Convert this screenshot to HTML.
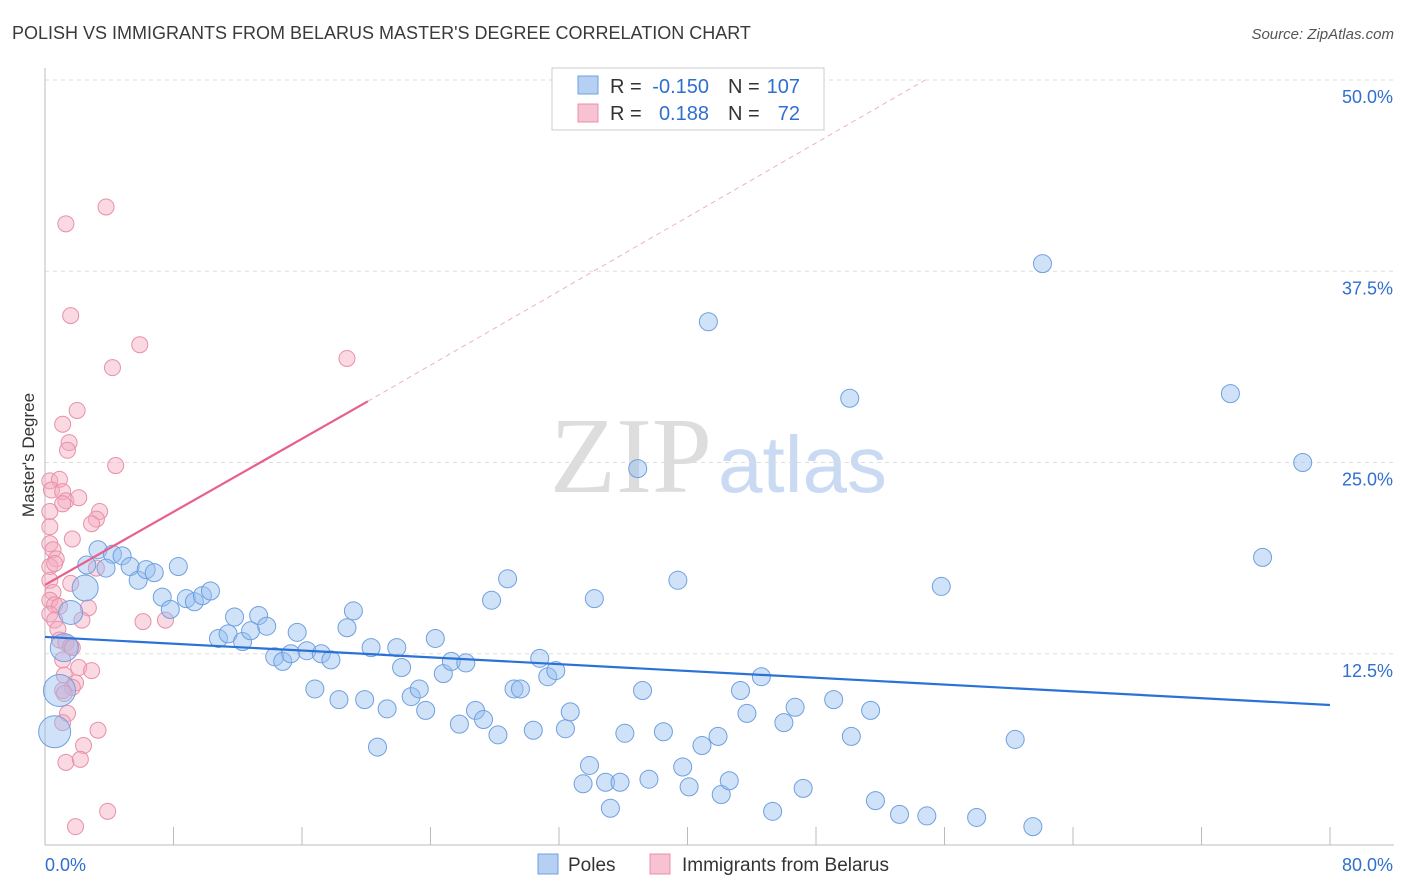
<!DOCTYPE html>
<html><head><meta charset="utf-8"><style>
body{margin:0;background:#fff;font-family:"Liberation Sans",sans-serif}
#wrap{position:relative;width:1406px;height:892px;overflow:hidden}
</style></head><body>
<div id="wrap">
<svg id="svg" width="1406" height="892" xmlns="http://www.w3.org/2000/svg">
<text x="12" y="39" font-size="18" fill="#3a3a3a">POLISH VS IMMIGRANTS FROM BELARUS MASTER'S DEGREE CORRELATION CHART</text>
<text x="1394" y="39" font-size="15" fill="#555" font-style="italic" text-anchor="end">Source: ZipAtlas.com</text>
<text x="712" y="492" font-size="108" fill="#ddd" font-family="Liberation Serif" text-anchor="end">ZIP</text>
<text x="718" y="492" font-size="80" fill="#c9daf2">atlas</text>
<text x="34" y="455" font-size="17" fill="#333" transform="rotate(-90 34 455)" text-anchor="middle">Master's Degree</text>
<g id="grid"></g><g id="pts"></g><g id="lines"></g>
<g>
<rect x="552" y="68" width="272" height="62" fill="#fff" stroke="#ccc"/>
<rect x="578" y="76" width="20" height="18" fill="#b6d0f3" stroke="#6fa0e0"/>
<rect x="578" y="104" width="20" height="18" fill="#f7c2d1" stroke="#e890a8"/>
<text x="610" y="93" font-size="20" fill="#333">R =</text>
<text x="709" y="93" font-size="20" fill="#2f6fd0" text-anchor="end">-0.150</text>
<text x="728" y="93" font-size="20" fill="#333">N =</text>
<text x="800" y="93" font-size="20" fill="#2f6fd0" text-anchor="end">107</text>
<text x="610" y="120" font-size="20" fill="#333">R =</text>
<text x="709" y="120" font-size="20" fill="#2f6fd0" text-anchor="end">0.188</text>
<text x="728" y="120" font-size="20" fill="#333">N =</text>
<text x="800" y="120" font-size="20" fill="#2f6fd0" text-anchor="end">72</text>
</g>
<g>
<rect x="538" y="854" width="20" height="20" fill="#b6d0f3" stroke="#6fa0e0"/>
<text x="568" y="871" font-size="19" fill="#333">Poles</text>
<rect x="650" y="854" width="20" height="20" fill="#f7c2d1" stroke="#e890a8"/>
<text x="682" y="871" font-size="19" fill="#333">Immigrants from Belarus</text>
</g>
</svg></div>
<script>
const yTicks=[12.5,25,37.5,50];
const yTickLabels=["12.5%","25.0%","37.5%","50.0%"];
const xTickVals=[0,8,16,24,32,40,48,56,64,72,80];
const xEndLabels=["0.0%","80.0%"];
const polesX=[62.1,41.3,50.1,73.8,78.3,36.9,75.8,55.8,39.4,28.8,34.2,27.8,19.2,18.8,24.3,3.3,2.6,4.2,4.8,5.3,3.8,5.8,6.3,6.8,8.3,7.3,7.8,8.8,9.3,9.8,10.3,11.8,13.3,10.8,11.4,12.3,12.8,13.8,15.7,14.3,14.8,15.3,16.3,17.2,17.8,20.3,21.9,22.2,24.8,25.3,26.2,30.8,31.3,31.8,16.8,18.3,19.9,21.3,22.8,23.3,23.7,25.8,26.8,27.3,28.2,29.2,29.6,30.4,32.4,32.7,20.7,33.9,33.5,34.9,35.8,35.2,37.6,36.1,37.2,38.5,39.7,40.1,40.9,41.9,42.1,42.6,43.3,43.7,44.6,46.0,46.7,47.2,45.3,49.1,50.2,51.4,51.7,53.2,54.9,58.0,60.4,61.5,0.9,0.6,1.2,2.5,1.6];
const polesY=[38.0,34.2,29.2,29.5,25.0,24.6,18.8,16.9,17.3,17.4,16.1,16.0,15.3,14.2,13.5,19.3,18.3,19.0,18.9,18.2,18.1,17.3,18.0,17.8,18.2,16.2,15.4,16.1,15.9,16.3,16.6,14.9,15.0,13.5,13.8,13.3,14.0,14.3,13.9,12.3,12.0,12.5,12.7,12.5,12.1,12.9,12.9,11.6,11.2,12.0,11.9,12.2,11.0,11.4,10.2,9.5,9.5,8.9,9.7,10.2,8.8,7.9,8.8,8.2,7.2,10.2,10.2,7.5,7.6,8.7,6.4,5.2,4.0,4.1,4.1,2.4,4.3,7.3,10.1,7.4,5.1,3.8,6.5,7.1,3.3,4.2,10.1,8.6,11.0,8.0,9.0,3.7,2.2,9.5,7.1,8.8,2.9,2.0,1.9,1.8,6.9,1.2,10.1,7.4,12.9,16.8,15.2];
const polesR=Array(102).fill(9).concat([16,16,14,13,12]);
const belX=[3.8,1.3,1.6,5.9,4.2,18.8,2.0,1.1,1.5,1.4,4.4,0.3,0.9,0.4,1.1,1.3,2.1,1.1,0.3,3.4,3.2,2.9,0.3,1.7,0.3,0.5,0.7,0.3,0.6,3.2,0.3,1.6,0.5,0.3,0.6,0.9,2.7,0.3,0.6,6.1,7.5,2.3,0.8,0.9,1.3,1.6,1.7,1.1,2.1,2.9,1.2,1.9,1.7,1.1,1.2,1.4,1.1,3.3,2.4,1.3,2.2,3.9,1.9];
const belY=[41.7,40.6,34.6,32.7,31.2,31.8,28.4,27.5,26.3,25.8,24.8,23.8,23.9,23.2,23.1,22.5,22.7,22.3,21.8,21.8,21.3,21.0,20.8,20.0,19.7,19.3,18.7,18.2,18.4,18.1,17.3,17.1,16.5,16.0,15.7,15.6,15.5,15.1,14.7,14.6,14.7,14.7,14.1,13.4,13.2,13.0,12.9,12.1,11.6,11.4,11.1,10.6,10.3,10.1,9.9,8.6,8.0,7.5,6.5,5.4,5.6,2.2,1.2];
const polesTrend=[[0,13.6],[80,9.15]];
const belTrend=[[0,17.0],[20.1,29.0]];
const belTrendExt=[[20.1,29.0],[54.8,50]];

const X0=45,X1=1330,Y0=845,Y50=80;
const sx=v=>X0+(X1-X0)*v/80;
const sy=v=>Y0-(Y0-Y50)*v/50;
const NS="http://www.w3.org/2000/svg";
function mk(tag,attrs,parent){const e=document.createElementNS(NS,tag);for(const k in attrs)e.setAttribute(k,attrs[k]);parent.appendChild(e);return e;}
const grid=document.getElementById('grid'),pts=document.getElementById('pts'),lines=document.getElementById('lines');
yTicks.forEach((t,i)=>{
  const l=mk('line',{x1:X0,x2:1394,y1:sy(t),y2:sy(t),stroke:'#ddd','stroke-dasharray':'4 4'},grid);
  
  
  const tx=mk('text',{x:1393,y:sy(t)+23,'font-size':18,fill:'#2f6fd0','text-anchor':'end'},grid);
  tx.textContent=yTickLabels[i];
  
  
});
const ax=mk('line',{x1:X0,x2:X0,y1:68,y2:Y0,stroke:'#bbb'},grid);


const bx=mk('line',{x1:X0,x2:1394,y1:Y0,y2:Y0,stroke:'#bbb'},grid);


xTickVals.forEach(v=>{
  const t=mk('line',{x1:sx(v),x2:sx(v),y1:Y0,y2:827,stroke:'#bbb'},grid);
  
  
});
[[0,'start'],[80,'end']].forEach((p,i)=>{
  const t=mk('text',{x:i?1393:45,y:871,'font-size':18,fill:'#2f6fd0','text-anchor':p[1]},grid);
  t.textContent=xEndLabels[i];
  
  
});
belX.forEach((v,i)=>{
  const c=mk('circle',{cx:sx(v),cy:sy(belY[i]),r:8,fill:'rgba(244,170,192,0.45)',stroke:'#e890a8','stroke-width':1},pts);
  
  
});
polesX.forEach((v,i)=>{
  const c=mk('circle',{cx:sx(v),cy:sy(polesY[i]),r:polesR[i],fill:'rgba(150,190,240,0.45)',stroke:'#6fa0e0','stroke-width':1},pts);
  
  
});
const pl=mk('line',{x1:sx(polesTrend[0][0]),y1:sy(polesTrend[0][1]),x2:sx(polesTrend[1][0]),y2:sy(polesTrend[1][1]),stroke:'#2a72d8','stroke-width':2.2},lines);


const bl=mk('line',{x1:sx(belTrend[0][0]),y1:sy(belTrend[0][1]),x2:sx(belTrend[1][0]),y2:sy(belTrend[1][1]),stroke:'#e8608a','stroke-width':2.2},lines);


const be=mk('line',{x1:sx(belTrendExt[0][0]),y1:sy(belTrendExt[0][1]),x2:sx(belTrendExt[1][0]),y2:sy(belTrendExt[1][1]),stroke:'#eeb0c2','stroke-width':1,'stroke-dasharray':'5 4'},lines);


</script>
</body></html>
